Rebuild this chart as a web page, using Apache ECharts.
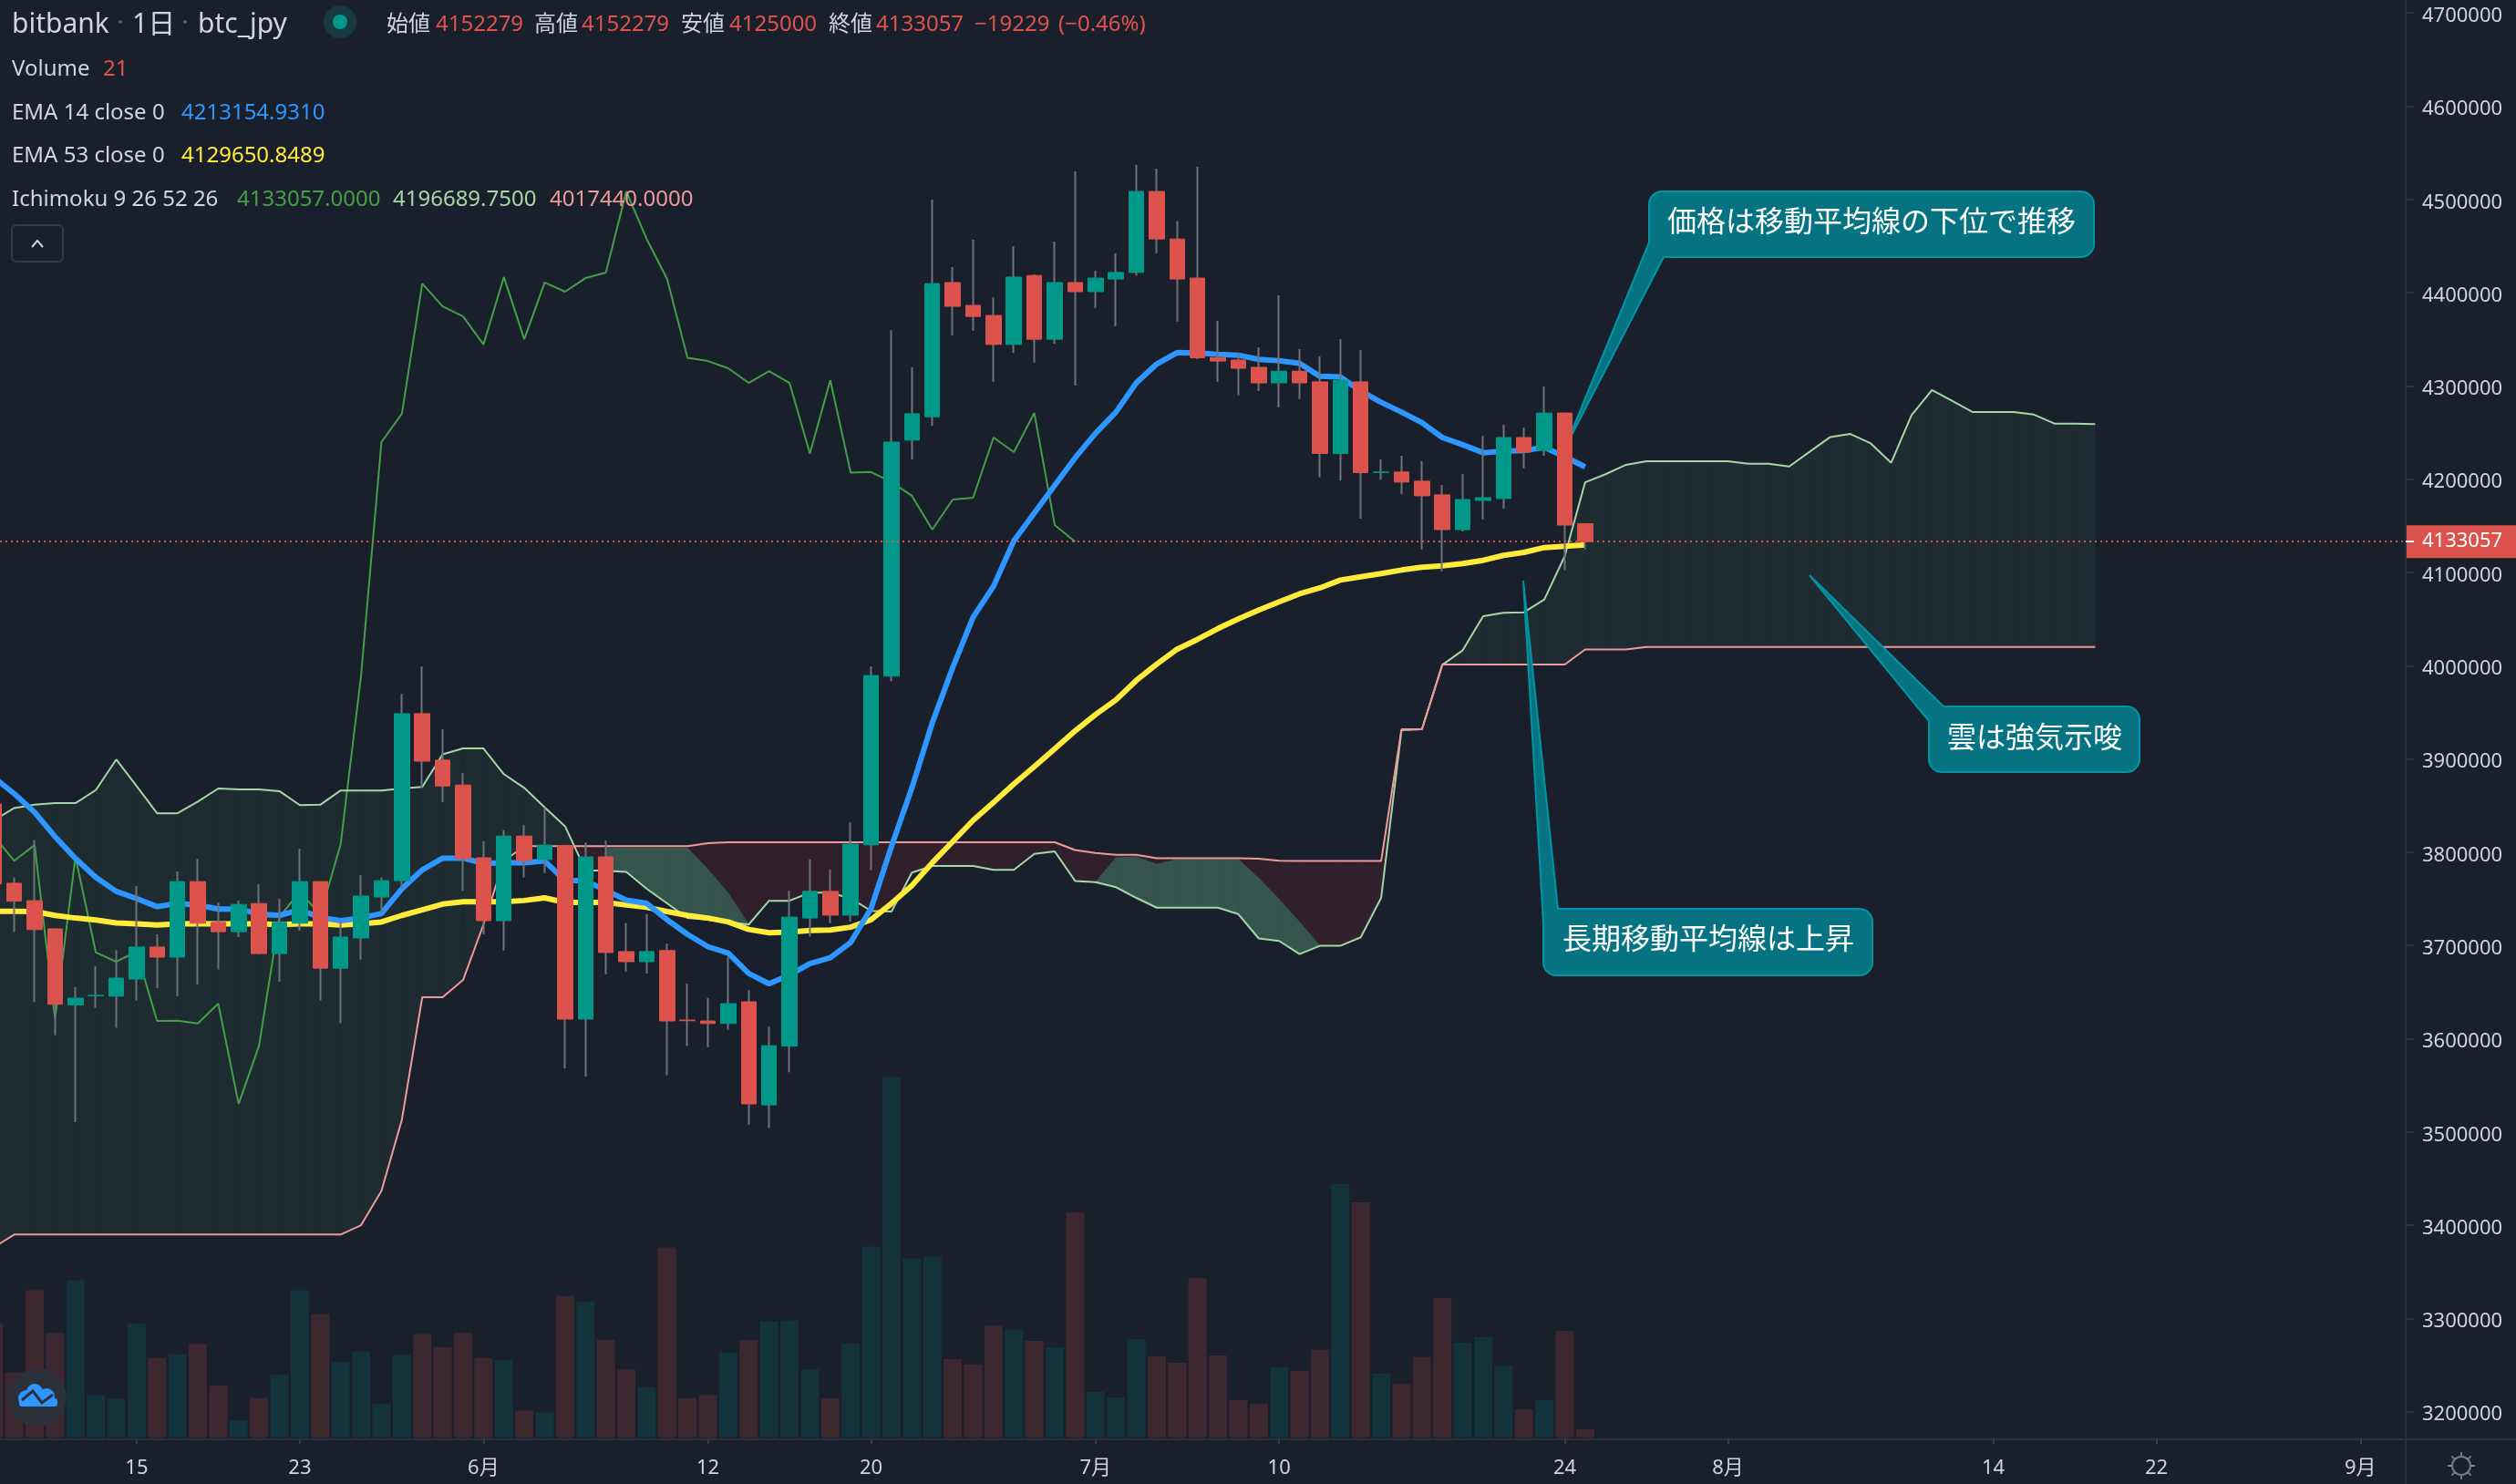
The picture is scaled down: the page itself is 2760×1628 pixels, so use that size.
<!DOCTYPE html>
<html>
<head>
<meta charset="utf-8">
<title>btc_jpy</title>
<style>html,body{margin:0;padding:0;background:#1a1f2c}#main{width:2760px;height:1628px}</style>
<script src="https://cdn.jsdelivr.net/npm/echarts@6/dist/echarts.min.js"></script>
</head>
<body>
<div id="main"></div>
<script>
// daily bars, 5/8 to 7/25, axis runs on to the start of September
var calendar = [[5, 8, 31], [6, 1, 30], [7, 1, 31], [8, 1, 31], [9, 1, 3]];
var tickLabels = {'5/15': '15', '5/23': '23', '6/1': '6月', '6/12': '12', '6/20': '20', '7/1': '7月', '7/10': '10', '7/24': '24', '8/1': '8月', '8/14': '14', '8/22': '22', '9/1': '9月'};
var priceTicks = [3200000, 3300000, 3400000, 3500000, 3600000, 3700000, 3800000, 3900000, 4000000, 4100000, 4200000, 4300000, 4400000, 4500000, 4600000, 4700000];

var opens = [3851600, 3766700, 3748000, 3717800, 3636200, 3646000, 3645600, 3664000, 3698300, 3687500, 3768500, 3724800, 3714700, 3745000, 3691300, 3723800, 3768500, 3675600, 3708000, 3752000, 3769500, 3948600, 3898700, 3872000, 3794000, 3726600, 3817300, 3792200, 3807200, 3621000, 3795000, 3693400, 3682600, 3694500, 3620000, 3619000, 3616300, 3639600, 3529000, 3592000, 3729400, 3758000, 3732500, 3807900, 3988800, 4241900, 4267000, 4410900, 4386400, 4375600, 4344500, 4418500, 4350100, 4410900, 4401100, 4414700, 4421700, 4508600, 4457600, 4415700, 4330500, 4327800, 4320000, 4303300, 4315900, 4304400, 4227600, 4304400, 4207300, 4207700, 4197900, 4183200, 4145900, 4177200, 4179200, 4244700, 4231000, 4271000, 4152279];
var highs = [3860000, 3773000, 3813000, 3718000, 3655400, 3677700, 3695000, 3763600, 3712000, 3779300, 3792900, 3746000, 3748200, 3765700, 3750000, 3803700, 3769000, 3726600, 3775500, 3772700, 3969900, 3999200, 3931800, 3885000, 3811800, 3823600, 3829000, 3847400, 3808000, 3810400, 3812500, 3724000, 3733600, 3702000, 3658900, 3643500, 3687500, 3652000, 3613000, 3758700, 3792200, 3781400, 3832000, 3999200, 4359900, 4320100, 4499900, 4427600, 4456900, 4395000, 4450000, 4419600, 4454800, 4530200, 4423400, 4442300, 4537200, 4533000, 4476800, 4535100, 4369700, 4335400, 4341400, 4397200, 4339600, 4331600, 4350100, 4338600, 4221300, 4225100, 4219200, 4193700, 4205600, 4246600, 4258400, 4255400, 4299400, 4271000, 4152279];
var lows = [3750000, 3714400, 3639300, 3603700, 3510500, 3633000, 3611700, 3641000, 3654300, 3645600, 3658200, 3674200, 3709000, 3690300, 3661000, 3716000, 3641000, 3616600, 3684700, 3734600, 3760800, 3869000, 3853700, 3758700, 3712000, 3694500, 3773000, 3777600, 3568000, 3559400, 3669000, 3671800, 3670000, 3560800, 3592200, 3590800, 3609600, 3507700, 3504200, 3564000, 3709500, 3723800, 3725500, 3780700, 3983200, 4221300, 4257200, 4354300, 4359200, 4304400, 4335400, 4325000, 4345200, 4300500, 4383600, 4364100, 4418500, 4442300, 4369000, 4328800, 4304400, 4290000, 4294600, 4277100, 4285900, 4202100, 4198600, 4157800, 4199600, 4183900, 4124600, 4101200, 4144000, 4156700, 4168400, 4211400, 4225100, 4102300, 4125000];
var closes = [3766000, 3747500, 3717000, 3636900, 3643500, 3646500, 3665000, 3698300, 3687500, 3768500, 3723800, 3714700, 3744000, 3691300, 3724800, 3768500, 3675600, 3709000, 3753000, 3769500, 3948600, 3897600, 3871000, 3793000, 3726600, 3817300, 3790800, 3807600, 3621000, 3795000, 3692400, 3682600, 3693400, 3619000, 3619300, 3616300, 3637600, 3530000, 3592500, 3730400, 3758000, 3732500, 3808600, 3989500, 4239800, 4270200, 4409800, 4385400, 4374500, 4344500, 4416800, 4350100, 4410900, 4401100, 4415700, 4421700, 4508600, 4457600, 4414700, 4330200, 4326700, 4319000, 4303300, 4315900, 4303300, 4227600, 4306100, 4207000, 4207700, 4196900, 4182200, 4145900, 4178200, 4180200, 4244700, 4229000, 4271000, 4150800, 4133057];
var volumes = [283, 161, 364, 258, 389, 105, 96, 283, 197, 206, 231, 128, 42, 98, 155, 364, 305, 186, 213, 83, 204, 256, 224, 258, 197, 191, 67, 62, 350, 337, 242, 168, 125, 470, 98, 105, 211, 240, 287, 290, 168, 98, 233, 472, 891, 443, 448, 194, 181, 277, 268, 239, 223, 556, 113, 100, 244, 201, 185, 394, 203, 93, 84, 174, 165, 217, 626, 581, 158, 133, 199, 345, 235, 248, 178, 70, 93, 264, 21];

var ema14 = [3880200, 3862700, 3842800, 3816600, 3793300, 3773000, 3758000, 3750300, 3741600, 3745100, 3743300, 3739100, 3739100, 3733600, 3732200, 3738100, 3730100, 3726600, 3729400, 3734300, 3760800, 3781000, 3793600, 3793600, 3788000, 3788700, 3788700, 3790500, 3769500, 3769500, 3759000, 3748600, 3745100, 3727600, 3711900, 3698700, 3691700, 3670000, 3658900, 3668300, 3680500, 3686800, 3703200, 3739800, 3806200, 3869000, 3938800, 3998000, 4052000, 4085200, 4134000, 4163700, 4193400, 4223000, 4249200, 4271900, 4303300, 4323600, 4335800, 4335400, 4334000, 4333000, 4328500, 4327100, 4324300, 4310300, 4309600, 4294600, 4282400, 4271900, 4260700, 4244700, 4237000, 4228400, 4230000, 4230700, 4234200, 4224100, 4213155];
var ema53 = [3736700, 3736700, 3736400, 3732200, 3729400, 3727300, 3724100, 3723100, 3722000, 3723100, 3723400, 3723100, 3723100, 3723100, 3722400, 3723100, 3723100, 3722000, 3723100, 3725200, 3732200, 3738100, 3744400, 3746800, 3746800, 3746800, 3748200, 3751000, 3746100, 3746100, 3746100, 3743300, 3740900, 3736400, 3732200, 3729400, 3725200, 3717200, 3713700, 3714400, 3716100, 3716500, 3719600, 3727600, 3745100, 3764300, 3788700, 3811400, 3834100, 3853300, 3873200, 3891700, 3910900, 3930100, 3947600, 3963300, 3984200, 4001700, 4017700, 4028200, 4039800, 4050200, 4059700, 4068400, 4077100, 4083400, 4091800, 4095300, 4098800, 4102600, 4105700, 4107100, 4109600, 4113000, 4118300, 4121500, 4126700, 4128000, 4129651];
var lagging = [3817300, 3790800, 3807600, 3621000, 3795000, 3692400, 3682600, 3693400, 3619000, 3619300, 3616300, 3637600, 3530000, 3592500, 3730400, 3758000, 3732500, 3808600, 3989500, 4239800, 4270200, 4409800, 4385400, 4374500, 4344500, 4416800, 4350100, 4410900, 4401100, 4415700, 4421700, 4508600, 4457600, 4414700, 4330200, 4326700, 4319000, 4303300, 4315900, 4303300, 4227600, 4306100, 4207000, 4207700, 4196900, 4182200, 4145900, 4178200, 4180200, 4244700, 4229000, 4271000, 4150800, 4133057];
var spanA = [3834100, 3847400, 3850900, 3852600, 3852600, 3866600, 3899400, 3870800, 3841800, 3841800, 3854300, 3868300, 3867300, 3867300, 3865500, 3850500, 3850900, 3866200, 3866200, 3866200, 3868300, 3870000, 3905000, 3911300, 3911300, 3883700, 3869000, 3848000, 3827800, 3780700, 3780000, 3778900, 3760800, 3745100, 3729400, 3727600, 3725200, 3722400, 3747900, 3747900, 3756600, 3756600, 3750300, 3737100, 3736400, 3778200, 3785200, 3785200, 3785200, 3781000, 3781000, 3798100, 3800900, 3769200, 3767800, 3762500, 3751000, 3740500, 3740500, 3740500, 3740500, 3733600, 3707500, 3704800, 3690800, 3699600, 3699600, 3708700, 3751000, 3930900, 3931900, 4000900, 4016600, 4053100, 4056700, 4057300, 4071000, 4117600, 4196690, 4205300, 4215400, 4219300, 4219300, 4219300, 4219300, 4219300, 4216500, 4216500, 4213700, 4229400, 4245100, 4248500, 4238400, 4217600, 4268700, 4295600, 4283900, 4272000, 4272000, 4272000, 4269300, 4259700, 4259700, 4259200];
var spanB = [3376300, 3390000, 3390000, 3390000, 3390000, 3390000, 3390000, 3390000, 3390000, 3390000, 3390000, 3390000, 3390000, 3390000, 3390000, 3390000, 3390000, 3390000, 3400000, 3436700, 3513000, 3644500, 3644500, 3663000, 3722400, 3790500, 3806500, 3806500, 3806500, 3806500, 3806500, 3806500, 3806500, 3806500, 3806500, 3809700, 3810700, 3810700, 3810700, 3810700, 3810700, 3810700, 3810700, 3810700, 3810700, 3810700, 3810700, 3810700, 3810700, 3810700, 3810700, 3810700, 3810700, 3802300, 3799200, 3797100, 3797100, 3793600, 3793600, 3793600, 3793600, 3793600, 3793000, 3790800, 3790500, 3790500, 3790500, 3790500, 3790500, 3931900, 3931900, 4001300, 4001300, 4001300, 4001300, 4001300, 4001300, 4001300, 4017440, 4017440, 4017440, 4020000, 4020000, 4020000, 4020000, 4020000, 4020000, 4020000, 4020000, 4020000, 4020000, 4020000, 4020000, 4020000, 4020000, 4020000, 4020000, 4020000, 4020000, 4020000, 4020000, 4020000, 4020000, 4020000];
// top edge of the darker patches inside the red cloud, the bottom edge is spanA
var patchFirst = [3804400, 3804400, 3804400, 3804400, 3804400, 3781700, 3755900, 3722400];
var patchFirstFrom = 30;
var patchSecond = [3767800, 3794000, 3795000, 3787000, 3792200, 3792200, 3792200, 3792200, 3772200, 3749400, 3725000, 3699600];
var patchSecondFrom = 54;

var RED = '#db534c', GREEN = '#009989', BG = '#1a1f2c', RULE = '#2c313d', TEXT = '#d1d4dc';
var FONT = '"Noto Sans", "Noto Sans CJK JP", sans-serif';

var categories = [];
calendar.forEach(function (m) {
    for (var d = m[1]; d <= m[2]; d++) categories.push(m[0] + '/' + d);
});
var lastClose = closes[closes.length - 1];

var wicks = opens.map(function (o, i) { return [o, closes[i], lows[i], highs[i]]; });
var bodies = opens.map(function (o, i) {
    return [o, closes[i], Math.min(o, closes[i]), Math.max(o, closes[i])];
});
var cloudItems = spanA.slice(0, -1).map(function (v, i) { return [i, v, spanB[i]]; });
var patchItems = [];
[[patchFirst, patchFirstFrom], [patchSecond, patchSecondFrom]].forEach(function (p) {
    for (var k = 0; k < p[0].length - 1; k++) patchItems.push([p[1] + k, p[0][k], p[0][k + 1]]);
});

function poly(pts, color) {
    return {type: 'polygon', shape: {points: pts}, style: {fill: color, stroke: color, lineWidth: 1}};
}

function renderCloud(params, api) {
    var i = api.value(0);
    var a0 = api.coord([i, spanA[i]]), a1 = api.coord([i + 1, spanA[i + 1]]);
    var b0 = api.coord([i, spanB[i]]), b1 = api.coord([i + 1, spanB[i + 1]]);
    var d0 = spanA[i] - spanB[i], d1 = spanA[i + 1] - spanB[i + 1];
    var up = '#1e2b30', down = '#2f202b';
    if (d0 * d1 >= 0) {
        return poly([a0, a1, b1, b0], d0 + d1 >= 0 ? up : down);
    }
    var t = d0 / (d0 - d1);
    var cross = [a0[0] + (a1[0] - a0[0]) * t, a0[1] + (a1[1] - a0[1]) * t];
    return {type: 'group', children: [
        poly([a0, cross, b0], d0 > 0 ? up : down),
        poly([cross, a1, b1], d1 > 0 ? up : down)
    ]};
}

function renderPatch(params, api) {
    var i = api.value(0);
    return poly([
        api.coord([i, api.value(1)]), api.coord([i + 1, api.value(2)]),
        api.coord([i + 1, spanA[i + 1]]), api.coord([i, spanA[i]])
    ], '#36544e');
}

// rounded box with the corner nearest the target pulled out to a point
function callout(x0, y0, x1, y1, corner, tip) {
    var r = 14, cut = 16, pts = [];
    function arc(cx, cy, from) {
        for (var a = 0; a <= 90; a += 15) {
            var t = (from + a) * Math.PI / 180;
            pts.push([cx + r * Math.cos(t), cy + r * Math.sin(t)]);
        }
    }
    if (corner === 'tl') pts.push([x0, y0 + cut], tip, [x0 + cut, y0]);
    else arc(x0 + r, y0 + r, 180);
    arc(x1 - r, y0 + r, 270);
    arc(x1 - r, y1 - r, 0);
    if (corner === 'bl') pts.push([x0 + cut, y1], tip, [x0, y1 - cut]);
    else arc(x0 + r, y1 - r, 90);
    return {type: 'polygon', z: 3, silent: true, shape: {points: pts},
        style: {fill: '#067382', stroke: '#0095a5', lineWidth: 2}};
}

function label(x, y, text, color, size, family) {
    return {type: 'text', z: 10, silent: true, x: x, y: y,
        style: {text: text, fill: color, font: (size || 24) + 'px ' + (family || FONT), verticalAlign: 'middle'}};
}

function rule(x1, y1, x2, y2, color, w) {
    return {type: 'line', z: 9, silent: true, shape: {x1: x1, y1: y1, x2: x2, y2: y2},
        style: {stroke: color || RULE, lineWidth: w || 2}};
}

var graphics = [
    rule(0, 1579, 2760, 1579),
    rule(2639, 0, 2639, 1628),
    rule(2639, 594, 2648, 594, '#ffffff'),

    label(13, 27, 'bitbank', TEXT, 30),
    label(145, 27, '1日', TEXT, 30),
    label(217, 27, 'btc_jpy', TEXT, 30),
    {type: 'circle', z: 10, silent: true, shape: {cx: 132, cy: 24, r: 2}, style: {fill: '#555a66'}},
    {type: 'circle', z: 10, silent: true, shape: {cx: 203, cy: 24, r: 2}, style: {fill: '#555a66'}},
    {type: 'circle', z: 10, silent: true, shape: {cx: 373, cy: 24, r: 18}, style: {fill: '#173a40'}},
    {type: 'circle', z: 10, silent: true, shape: {cx: 373, cy: 24, r: 8}, style: {fill: GREEN}},
    label(424, 27, '始値', TEXT), label(478, 27, '4152279', '#e0534c'),
    label(586, 27, '高値', TEXT), label(638, 27, '4152279', '#e0534c'),
    label(747, 27, '安値', TEXT), label(800, 27, '4125000', '#e0534c'),
    label(909, 27, '終値', TEXT), label(961, 27, '4133057', '#e0534c'),
    label(1069, 27, '−19229', '#e0534c'), label(1161, 27, '(−0.46%)', '#e0534c'),
    label(13, 76, 'Volume', TEXT), label(113, 76, '21', '#e0534c'),
    label(13, 124, 'EMA 14 close 0', TEXT), label(199, 124, '4213154.9310', '#2e97ff'),
    label(13, 171, 'EMA 53 close 0', TEXT), label(199, 171, '4129650.8489', '#ffeb3b'),
    label(13, 219, 'Ichimoku 9 26 52 26', TEXT),
    label(260, 219, '4133057.0000', '#43a047'),
    label(431, 219, '4196689.7500', '#a5d6a7'),
    label(603, 219, '4017440.0000', '#ef9a9a'),

    {type: 'rect', z: 10, silent: true, shape: {x: 13, y: 247, width: 56, height: 40, r: 5},
        style: {fill: BG, stroke: '#363a45', lineWidth: 2}},
    {type: 'polyline', z: 10, silent: true, shape: {points: [[35, 271], [41, 264], [47, 271]]},
        style: {fill: 'none', stroke: TEXT, lineWidth: 2}},

    callout(1809, 210, 2297, 282, 'bl', [1716, 493]),
    label(1829, 242, '価格は移動平均線の下位で推移', '#ffffff', 32, '"Noto Sans CJK JP"'),
    callout(2116, 775, 2347, 847, 'tl', [1985, 631]),
    label(2136, 808, '雲は強気示唆', '#ffffff', 32, '"Noto Sans CJK JP"'),
    callout(1693, 997, 2054, 1070, 'tl', [1671, 637]),
    label(1714, 1029, '長期移動平均線は上昇', '#ffffff', 32, '"Noto Sans CJK JP"'),

    // logo
    {type: 'circle', z: 10, silent: true, shape: {cx: 41, cy: 1533, r: 32}, style: {fill: '#2b303b'}},
    {type: 'circle', z: 10, silent: true, shape: {cx: 29, cy: 1534, r: 9}, style: {fill: '#2e97ff'}},
    {type: 'circle', z: 10, silent: true, shape: {cx: 38, cy: 1527, r: 9}, style: {fill: '#2e97ff'}},
    {type: 'circle', z: 10, silent: true, shape: {cx: 51, cy: 1532, r: 9}, style: {fill: '#2e97ff'}},
    {type: 'rect', z: 10, silent: true, shape: {x: 21, y: 1534, width: 42, height: 9, r: 3}, style: {fill: '#2e97ff'}},
    {type: 'polyline', z: 10, silent: true, shape: {points: [[24, 1536], [36, 1526], [46, 1539], [58, 1530]]},
        style: {fill: 'none', stroke: '#2b303b', lineWidth: 3}},

    // settings icon
    {type: 'circle', z: 10, silent: true, shape: {cx: 2700, cy: 1608, r: 10},
        style: {fill: 'none', stroke: '#787b86', lineWidth: 2}}
];
for (var k = 0; k < 8; k++) {
    var ang = k * Math.PI / 4;
    graphics.push(rule(2700 + 10 * Math.cos(ang), 1608 + 10 * Math.sin(ang),
        2700 + 15 * Math.cos(ang), 1608 + 15 * Math.sin(ang), '#787b86'));
}

var myChart = echarts.init(document.getElementById('main'));
var option = {
    animation: false,
    backgroundColor: BG,
    grid: {left: -17.95, top: 0, width: 2663.22, height: 1579, outerBoundsMode: 'none'},
    xAxis: {
        type: 'category',
        data: categories,
        boundaryGap: true,
        axisLine: {show: false},
        axisTick: {
            show: true, length: 7, alignWithLabel: true,
            lineStyle: {color: '#3a3f4b', width: 2},
            interval: function (i, v) { return tickLabels[v] !== undefined; }
        },
        axisLabel: {
            color: TEXT, fontFamily: FONT, fontSize: 22, margin: 21,
            interval: function (i, v) { return tickLabels[v] !== undefined; },
            formatter: function (v) { return tickLabels[v]; }
        },
        splitLine: {show: false}
    },
    yAxis: [{
        type: 'value',
        position: 'right',
        offset: -6.27,
        min: 3170350,
        max: 4713900,
        axisLine: {show: false},
        axisTick: {show: true, length: 9, customValues: priceTicks, lineStyle: {color: RULE, width: 2}},
        axisLabel: {
            color: TEXT, fontFamily: FONT, fontSize: 22, margin: 18, customValues: priceTicks,
            verticalAlign: 'top', lineHeight: 7,
            formatter: function (v) { return String(v); }
        },
        splitLine: {show: false}
    }, {
        type: 'value',
        show: false,
        min: -4,
        max: 3550,
        splitLine: {show: false}
    }],
    graphic: {elements: graphics},
    series: [{
        name: 'Volume',
        type: 'bar',
        yAxisIndex: 1,
        barWidth: 20,
        z: 1,
        data: volumes,
        itemStyle: {
            color: function (p) {
                return closes[p.dataIndex] >= opens[p.dataIndex] ? '#14333c' : '#3e2830';
            }
        }
    }, {
        name: 'Cloud',
        type: 'custom',
        z: 1,
        clip: false,
        silent: true,
        renderItem: renderCloud,
        encode: {x: 0, y: [1, 2]},
        data: cloudItems
    }, {
        name: 'CloudPatch',
        type: 'custom',
        z: 1,
        clip: false,
        silent: true,
        renderItem: renderPatch,
        encode: {x: 0, y: [1, 2]},
        data: patchItems
    }, {
        name: 'Lagging',
        type: 'line',
        z: 2,
        showSymbol: false,
        data: lagging,
        lineStyle: {color: '#43a047', width: 2}
    }, {
        name: 'Span A',
        type: 'line',
        z: 2,
        showSymbol: false,
        data: spanA,
        lineStyle: {color: '#a5d6a7', width: 2}
    }, {
        name: 'Span B',
        type: 'line',
        z: 2,
        showSymbol: false,
        data: spanB,
        lineStyle: {color: '#ef9a9a', width: 2}
    }, {
        name: 'EMA 53',
        type: 'line',
        z: 2,
        showSymbol: false,
        data: ema53,
        lineStyle: {color: '#ffeb3b', width: 6}
    }, {
        name: 'EMA 14',
        type: 'line',
        z: 2,
        showSymbol: false,
        data: ema14,
        lineStyle: {color: '#2e97ff', width: 6}
    }, {
        name: 'Wicks',
        type: 'candlestick',
        z: 4,
        barWidth: 1,
        data: wicks,
        itemStyle: {color: '#6f7278', color0: '#6f7278', borderColor: '#6f7278', borderColor0: '#6f7278', borderColorDoji: '#6f7278', borderWidth: 2}
    }, {
        name: 'Candles',
        type: 'candlestick',
        z: 5,
        barWidth: 17,
        data: bodies,
        itemStyle: {color: GREEN, color0: RED, borderColor: GREEN, borderColor0: RED, borderColorDoji: GREEN, borderWidth: 1},
        markLine: {
            silent: true,
            symbol: 'none',
            z: 6,
            animation: false,
            data: [{yAxis: lastClose}],
            lineStyle: {color: '#e0534c', type: [2, 4], width: 2},
            label: {
                show: true, position: 'end', distance: 0, offset: [-6.27, 0],
                formatter: String(lastClose),
                color: '#ffffff', fontFamily: FONT, fontSize: 22,
                backgroundColor: RED, width: 103, height: 36, lineHeight: 36,
                padding: [0, 0, 0, 18], align: 'left'
            }
        }
    }]
};
myChart.setOption(option);
</script>
</body>
</html>
